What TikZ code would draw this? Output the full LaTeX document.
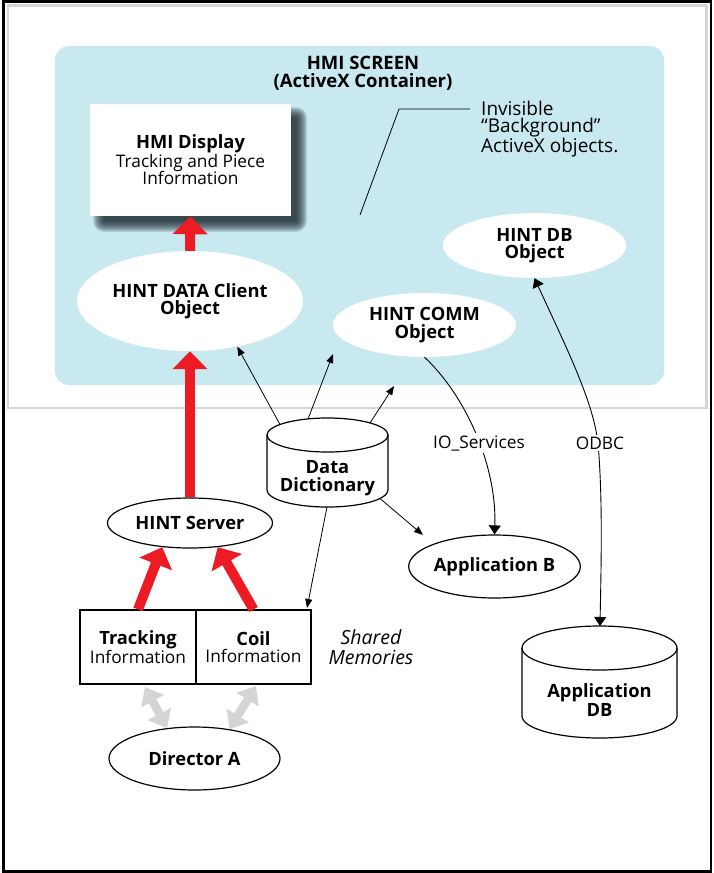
\documentclass[tikz,border=0pt]{standalone}
\usepackage{fontspec}
\setmainfont{Open Sans}
\usetikzlibrary{shapes.geometric,arrows.meta}

\definecolor{screenblue}{RGB}{201,233,241}
\definecolor{framegray}{RGB}{214,214,214}
\definecolor{flowred}{RGB}{237,28,36}
\definecolor{linkgray}{RGB}{212,212,212}
\definecolor{shadeink}{RGB}{20,35,40}

\newcommand{\headfont}{\fontsize{18.3}{17.5}\selectfont\bfseries}
\newcommand{\plainfont}{\fontsize{17.3}{17.5}\selectfont}

\begin{document}
\begin{tikzpicture}[x=1pt,y=-1pt,
  font=\plainfont,
  obj/.style={ellipse, fill=white, inner sep=0pt, align=center, font=\headfont},
  proc/.style={obj, draw, line width=1.2pt},
  membox/.style={draw, line width=1.2pt, inner sep=0pt, minimum height=74pt, align=center},
  dbshape/.style={draw, line width=1.2pt, fill=white},
  thinlink/.style={line width=0.8pt, -{Triangle[width=7pt,length=9pt]}},
  curvelink/.style={line width=0.9pt},
  bigtip/.tip={Triangle[width=12pt,length=9pt]},
  redflow/.style={draw=flowred, line width=10pt, -{Triangle[width=34pt,length=18pt]}},
  grayflow/.style={draw=linkgray, line width=8.5pt,
    {Triangle[width=25pt,length=16pt]}-{Triangle[width=25pt,length=16pt]}},
  tag/.style={fill=white, inner sep=2pt}
]
\useasboundingbox (0,0) rectangle (713,873);

% frames
\draw[line width=2.5pt] (3.5,1.5) rectangle (711,871.5);
\draw[framegray, line width=2.5pt] (8,5.5) rectangle (706.5,408);

% HMI screen container
\fill[screenblue, rounded corners=14pt] (55,46) rectangle (664,385);
\node[align=center, font=\fontsize{18.5}{18}\selectfont\bfseries] (title) at (363,73)
  {HMI SCREEN\\(ActiveX Container)};

% soft drop shadow of the display window, built from stacked translucent layers
\foreach \k in {0,...,11}{
  \fill[shadeink, opacity=0.12, rounded corners={11-\k}]
    (93+\k,107+\k) rectangle (307-\k,232-\k);
}

% HMI display window
\node[fill=white, minimum width=201pt, minimum height=112pt, inner sep=0pt, align=center]
  (disp) at (190.5,160) {{\headfont HMI Display}\\Tracking and Piece\\Information};

% background objects note
\node[align=left, anchor=west, inner sep=0pt, font=\fontsize{19}{17.5}\selectfont] (inv) at (481,129)
  {Invisible\\“Background”\\ActiveX objects.};
\coordinate (leadA) at (470,109);
\coordinate (leadB) at (399,109);
\coordinate (leadC) at (360,215);
\draw[line width=0.8pt] (leadA) -- (leadB) -- (leadC);

% ActiveX objects
\node[obj, minimum width=226pt, minimum height=100pt] (hdc) at (190,301) {HINT DATA Client\\Object};
\node[obj, minimum width=183pt, minimum height=64pt] (comm) at (424.5,325) {HINT COMM\\Object};
\node[obj, minimum width=183pt, minimum height=65pt] (hdb) at (534.5,245.5) {HINT DB\\Object};

% processes
\node[proc, minimum width=165pt, minimum height=50pt] (server) at (190,523) {HINT Server};
\node[proc, minimum width=171pt, minimum height=63pt] (appb) at (494.5,566.5) {Application B};
\node[proc, minimum width=171pt, minimum height=63pt] (dira) at (194.5,758.5) {Director A};

% shared memories
\node[membox, minimum width=116pt] (trk) at (138,647) {{\headfont Tracking}\\Information};
\node[membox, minimum width=115pt] (coil) at (253.5,647) {{\headfont Coil}\\Information};
\node[font=\fontsize{19.5}{19.5}\selectfont\itshape, align=center] (shm) at (371,647) {Shared\\Memories};

% data dictionary
\draw[dbshape] (267,435) -- (267,490)
  arc[start angle=180, end angle=360, x radius=60.5pt, y radius=17pt] -- (388,435)
  arc[start angle=0, end angle=180, x radius=60.5pt, y radius=17pt] -- cycle;
\draw[line width=1.2pt] (267,435) arc[start angle=180, end angle=360, x radius=60.5pt, y radius=17pt];
\node[align=center, font=\headfont] (dd) at (327.5,478) {Data\\Dictionary};

% application database
\draw[dbshape] (522,648) -- (522,716)
  arc[start angle=180, end angle=360, x radius=77.5pt, y radius=22pt] -- (677,648)
  arc[start angle=0, end angle=180, x radius=77.5pt, y radius=22pt] -- cycle;
\draw[line width=1.2pt] (522,648) arc[start angle=180, end angle=360, x radius=77.5pt, y radius=22pt];
\node[align=center, font=\fontsize{18.3}{16.5}\selectfont\bfseries] (adb) at (599.5,700) {Application\\DB};
\coordinate (adbTop) at (600,626);

% data flow into the display
\draw[redflow] (server.north) -- (hdc.south);
\draw[redflow] (hdc.north) -- (disp.south);
\draw[redflow] (trk.north) -- (server.221);
\draw[redflow] (coil.north) -- (server.319);

% director access to shared memories
\coordinate (trkLow) at (145,687);
\coordinate (coilLow) at (256,686);
\draw[grayflow] (trkLow) -- (dira.132);
\draw[grayflow] (coilLow) -- (dira.40);

% data dictionary links
\coordinate (ddT1) at (280,424.5);
\coordinate (ddT2) at (308,419);
\coordinate (ddT3) at (370,423);
\coordinate (ddB1) at (327,507);
\coordinate (ddB2) at (380,498.5);
\coordinate (toComm) at (333,354);
\coordinate (toScreen) at (394,386);
\coordinate (toMem) at (307,608);
\coordinate (toAppB) at (423,535);
\draw[thinlink] (ddT1) -- (hdc.-44);
\draw[thinlink] (ddT2) -- (toComm);
\draw[thinlink] (ddT3) -- (toScreen);
\draw[thinlink] (ddB1) -- (toMem);
\draw[thinlink] (ddB2) -- (toAppB);

% IO services and ODBC links
\draw[curvelink, -bigtip] (comm.south) .. controls (465,395) and (497,465) .. (appb.north);
\node[tag] (io) at (479,443) {IO\_Services};
\draw[curvelink, bigtip-bigtip] (hdb.south) .. controls (565,345) and (593,400) .. (598,443)
  .. controls (603,500) and (601,570) .. (adbTop);
\node[tag] (odbc) at (600,443) {ODBC};
\end{tikzpicture}
\end{document}
